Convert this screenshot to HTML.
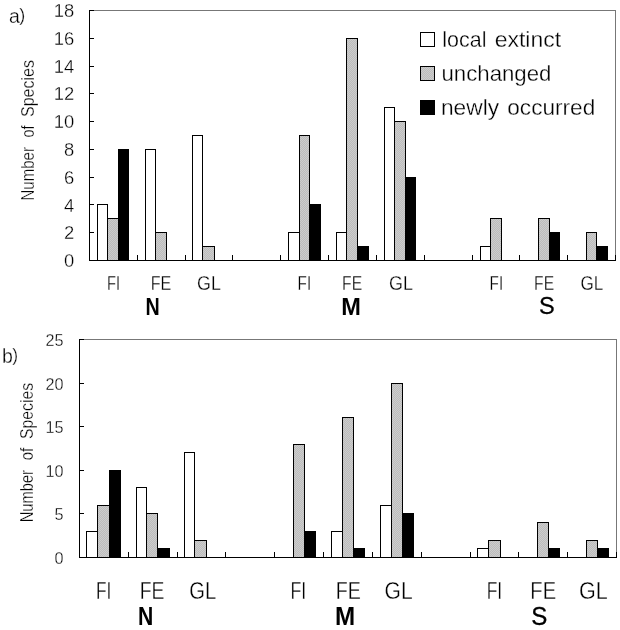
<!DOCTYPE html>
<html><head><meta charset="utf-8"><title>Number of Species</title>
<style>
html,body{margin:0;padding:0;background:#fff}
svg{display:block;will-change:transform;filter:grayscale(1)}
text{font-family:"Liberation Sans",Arial,sans-serif;fill:#000}
.t{stroke:#fff;stroke-width:0.3;paint-order:fill stroke}
.b{font-weight:bold}
.s{stroke:#000;stroke-width:.3}
</style></head><body>
<svg width="620" height="630" viewBox="0 0 620 630">
<defs><pattern id="g" width="2" height="2" patternUnits="userSpaceOnUse"><rect width="2" height="2" fill="#bcbcbc"/><rect width="1" height="1" fill="#cdcdcd"/><rect x="1" y="1" width="1" height="1" fill="#cdcdcd"/></pattern></defs>
<rect width="620" height="630" fill="#fff"/>
<g shape-rendering="crispEdges">
<rect x="97.5" y="204.94" width="10" height="55.56" fill="#fff" stroke="#000" stroke-width="1"/>
<rect x="107.5" y="218.83" width="10.5" height="41.67" fill="url(#g)" stroke="#000" stroke-width="1"/>
<rect x="118" y="149.39" width="10.9" height="111.11" fill="#000" stroke="#000" stroke-width="1"/>
<rect x="145.33" y="149.39" width="10.6" height="111.11" fill="#fff" stroke="#000" stroke-width="1"/>
<rect x="155.93" y="232.72" width="10.6" height="27.78" fill="url(#g)" stroke="#000" stroke-width="1"/>
<rect x="192.6" y="135.5" width="9.9" height="125" fill="#fff" stroke="#000" stroke-width="1"/>
<rect x="202.5" y="246.61" width="11.9" height="13.89" fill="url(#g)" stroke="#000" stroke-width="1"/>
<rect x="288.78" y="232.72" width="10.6" height="27.78" fill="#fff" stroke="#000" stroke-width="1"/>
<rect x="299.38" y="135.5" width="10.6" height="125" fill="url(#g)" stroke="#000" stroke-width="1"/>
<rect x="309.98" y="204.94" width="10.6" height="55.56" fill="#000" stroke="#000" stroke-width="1"/>
<rect x="336.4" y="232.72" width="10.2" height="27.78" fill="#fff" stroke="#000" stroke-width="1"/>
<rect x="346.6" y="38.28" width="11" height="222.22" fill="url(#g)" stroke="#000" stroke-width="1"/>
<rect x="357.6" y="246.61" width="10.6" height="13.89" fill="#000" stroke="#000" stroke-width="1"/>
<rect x="384.5" y="107.72" width="10.1" height="152.78" fill="#fff" stroke="#000" stroke-width="1"/>
<rect x="394.6" y="121.61" width="10.7" height="138.89" fill="url(#g)" stroke="#000" stroke-width="1"/>
<rect x="405.3" y="177.17" width="10.6" height="83.33" fill="#000" stroke="#000" stroke-width="1"/>
<rect x="480.05" y="246.61" width="10.6" height="13.89" fill="#fff" stroke="#000" stroke-width="1"/>
<rect x="490.65" y="218.83" width="10.6" height="41.67" fill="url(#g)" stroke="#000" stroke-width="1"/>
<rect x="538.47" y="218.83" width="10.6" height="41.67" fill="url(#g)" stroke="#000" stroke-width="1"/>
<rect x="549.07" y="232.72" width="10.6" height="27.78" fill="#000" stroke="#000" stroke-width="1"/>
<rect x="586.29" y="232.72" width="10.6" height="27.78" fill="url(#g)" stroke="#000" stroke-width="1"/>
<rect x="596.89" y="246.61" width="10.6" height="13.89" fill="#000" stroke="#000" stroke-width="1"/>
<path d="M89.5 10.5H615.5V260.5" fill="none" stroke="#777" stroke-width="1"/>
<path d="M89.5 10V260.5H616" fill="none" stroke="#000" stroke-width="1"/>
<path d="M89.5 260.5h4.5M89.5 232.72h4.5M89.5 204.94h4.5M89.5 177.17h4.5M89.5 149.39h4.5M89.5 121.61h4.5M89.5 93.83h4.5M89.5 66.06h4.5M89.5 38.28h4.5M89.5 10.5h4.5M137.32 260.5v-5.5M185.14 260.5v-5.5M232.95 260.5v-5.5M280.77 260.5v-5.5M328.59 260.5v-5.5M376.41 260.5v-5.5M424.23 260.5v-5.5M472.05 260.5v-5.5M519.86 260.5v-5.5M567.68 260.5v-5.5M615.5 260.5v-5.5" fill="none" stroke="#000" stroke-width="1"/>
<rect x="86.5" y="531.34" width="11" height="26.16" fill="#fff" stroke="#000" stroke-width="1"/>
<rect x="97.5" y="505.18" width="11.5" height="52.32" fill="url(#g)" stroke="#000" stroke-width="1"/>
<rect x="109" y="470.3" width="11.6" height="87.2" fill="#000" stroke="#000" stroke-width="1"/>
<rect x="136.3" y="487.74" width="10.5" height="69.76" fill="#fff" stroke="#000" stroke-width="1"/>
<rect x="146.8" y="513.9" width="10.8" height="43.6" fill="url(#g)" stroke="#000" stroke-width="1"/>
<rect x="157.6" y="548.78" width="11.4" height="8.72" fill="#000" stroke="#000" stroke-width="1"/>
<rect x="184.5" y="452.86" width="10" height="104.64" fill="#fff" stroke="#000" stroke-width="1"/>
<rect x="194.5" y="540.06" width="12" height="17.44" fill="url(#g)" stroke="#000" stroke-width="1"/>
<rect x="293.63" y="444.14" width="11.1" height="113.36" fill="url(#g)" stroke="#000" stroke-width="1"/>
<rect x="304.73" y="531.34" width="11.1" height="26.16" fill="#000" stroke="#000" stroke-width="1"/>
<rect x="331.35" y="531.34" width="11.1" height="26.16" fill="#fff" stroke="#000" stroke-width="1"/>
<rect x="342.45" y="417.98" width="11.1" height="139.52" fill="url(#g)" stroke="#000" stroke-width="1"/>
<rect x="353.55" y="548.78" width="11.1" height="8.72" fill="#000" stroke="#000" stroke-width="1"/>
<rect x="380.17" y="505.18" width="11.1" height="52.32" fill="#fff" stroke="#000" stroke-width="1"/>
<rect x="391.27" y="383.1" width="11.1" height="174.4" fill="url(#g)" stroke="#000" stroke-width="1"/>
<rect x="402.37" y="513.9" width="11.1" height="43.6" fill="#000" stroke="#000" stroke-width="1"/>
<rect x="477.8" y="548.78" width="11.1" height="8.72" fill="#fff" stroke="#000" stroke-width="1"/>
<rect x="488.9" y="540.06" width="11.1" height="17.44" fill="url(#g)" stroke="#000" stroke-width="1"/>
<rect x="537.72" y="522.62" width="11.1" height="34.88" fill="url(#g)" stroke="#000" stroke-width="1"/>
<rect x="548.82" y="548.78" width="11.1" height="8.72" fill="#000" stroke="#000" stroke-width="1"/>
<rect x="586.54" y="540.06" width="11.1" height="17.44" fill="url(#g)" stroke="#000" stroke-width="1"/>
<rect x="597.64" y="548.78" width="11.1" height="8.72" fill="#000" stroke="#000" stroke-width="1"/>
<path d="M79.5 339.5H616.5V557.5" fill="none" stroke="#777" stroke-width="1"/>
<path d="M79.5 339V557.5H617" fill="none" stroke="#000" stroke-width="1"/>
<path d="M79.5 557.5h4.5M79.5 513.9h4.5M79.5 470.3h4.5M79.5 426.7h4.5M79.5 383.1h4.5M79.5 339.5h4.5M128.32 557.5v-5.5M177.14 557.5v-5.5M225.95 557.5v-5.5M274.77 557.5v-5.5M323.59 557.5v-5.5M372.41 557.5v-5.5M421.23 557.5v-5.5M470.05 557.5v-5.5M518.86 557.5v-5.5M567.68 557.5v-5.5M616.5 557.5v-5.5" fill="none" stroke="#000" stroke-width="1"/>
<rect x="420.5" y="32.5" width="14" height="14" fill="#fff" stroke="#000"/>
<rect x="420.5" y="66.5" width="14" height="14" fill="url(#g)" stroke="#000"/>
<rect x="420.5" y="100.5" width="14" height="14" fill="#000" stroke="#000"/>
</g>
<g>
<text class="t" x="74.3" y="267.1" font-size="18.4" text-anchor="end">0</text>
<text class="t" x="74.3" y="239.32" font-size="18.4" text-anchor="end">2</text>
<text class="t" x="74.3" y="211.54" font-size="18.4" text-anchor="end">4</text>
<text class="t" x="74.3" y="183.77" font-size="18.4" text-anchor="end">6</text>
<text class="t" x="74.3" y="155.99" font-size="18.4" text-anchor="end">8</text>
<text class="t" x="74.3" y="128.21" font-size="18.4" text-anchor="end">10</text>
<text class="t" x="74.3" y="100.43" font-size="18.4" text-anchor="end">12</text>
<text class="t" x="74.3" y="72.66" font-size="18.4" text-anchor="end">14</text>
<text class="t" x="74.3" y="44.88" font-size="18.4" text-anchor="end">16</text>
<text class="t" x="74.3" y="17.1" font-size="18.4" text-anchor="end">18</text>
<text class="t" x="63.6" y="563.9" font-size="16.2" text-anchor="end">0</text>
<text class="t" x="63.6" y="520.3" font-size="16.2" text-anchor="end">5</text>
<text class="t" x="63.6" y="476.7" font-size="16.2" text-anchor="end">10</text>
<text class="t" x="63.6" y="433.1" font-size="16.2" text-anchor="end">15</text>
<text class="t" x="63.6" y="389.5" font-size="16.2" text-anchor="end">20</text>
<text class="t" x="63.6" y="345.9" font-size="16.2" text-anchor="end">25</text>
<text class="t" x="442.30" y="46.50" font-size="21.3" textLength="44.16" lengthAdjust="spacingAndGlyphs">local</text>
<text class="t" x="494.70" y="46.50" font-size="21.3" textLength="66.47" lengthAdjust="spacingAndGlyphs">extinct</text>
<text class="t" x="441.50" y="80.60" font-size="21.3" textLength="109.89" lengthAdjust="spacingAndGlyphs">unchanged</text>
<text class="t" x="440.95" y="114.50" font-size="21.3" textLength="58.11" lengthAdjust="spacingAndGlyphs">newly</text>
<text class="t" x="507.25" y="114.50" font-size="21.3" textLength="88.00" lengthAdjust="spacingAndGlyphs">occurred</text>
<text class="t" transform="translate(33.90 200.50) rotate(-90)" font-size="17.8" textLength="53.38" lengthAdjust="spacingAndGlyphs">Number</text>
<text class="t" transform="translate(33.90 137.60) rotate(-90)" font-size="17.8" textLength="12.02" lengthAdjust="spacingAndGlyphs">of</text>
<text class="t" transform="translate(33.90 116.95) rotate(-90)" font-size="17.8" textLength="56.86" lengthAdjust="spacingAndGlyphs">Species</text>
<text class="t" transform="translate(33.00 522.30) rotate(-90)" font-size="17.8" textLength="52.29" lengthAdjust="spacingAndGlyphs">Number</text>
<text class="t" transform="translate(33.00 460.35) rotate(-90)" font-size="17.8" textLength="12.59" lengthAdjust="spacingAndGlyphs">of</text>
<text class="t" transform="translate(33.00 438.95) rotate(-90)" font-size="17.8" textLength="56.01" lengthAdjust="spacingAndGlyphs">Species</text>
<text class="t" x="107.10" y="290.00" font-size="20.3" textLength="13.03" lengthAdjust="spacingAndGlyphs">FI</text>
<text class="t" x="150.63" y="290.00" font-size="20.3" textLength="20.58" lengthAdjust="spacingAndGlyphs">FE</text>
<text class="t" x="197.10" y="290.00" font-size="20.3" textLength="23.80" lengthAdjust="spacingAndGlyphs">GL</text>
<text class="t" x="297.62" y="290.00" font-size="20.3" textLength="13.59" lengthAdjust="spacingAndGlyphs">FI</text>
<text class="t" x="342.05" y="290.00" font-size="20.3" textLength="20.09" lengthAdjust="spacingAndGlyphs">FE</text>
<text class="t" x="389.05" y="290.00" font-size="20.3" textLength="23.90" lengthAdjust="spacingAndGlyphs">GL</text>
<text class="t" x="489.62" y="290.00" font-size="20.3" textLength="13.59" lengthAdjust="spacingAndGlyphs">FI</text>
<text class="t" x="534.10" y="290.00" font-size="20.3" textLength="20.01" lengthAdjust="spacingAndGlyphs">FE</text>
<text class="t" x="580.58" y="290.00" font-size="20.3" textLength="22.77" lengthAdjust="spacingAndGlyphs">GL</text>
<text class="t" x="95.90" y="598.80" font-size="23" textLength="15.40" lengthAdjust="spacingAndGlyphs">FI</text>
<text class="t" x="139.70" y="598.80" font-size="23" textLength="24.66" lengthAdjust="spacingAndGlyphs">FE</text>
<text class="t" x="189.25" y="598.80" font-size="23" textLength="26.90" lengthAdjust="spacingAndGlyphs">GL</text>
<text class="t" x="290.50" y="598.80" font-size="23" textLength="15.73" lengthAdjust="spacingAndGlyphs">FI</text>
<text class="t" x="335.75" y="598.80" font-size="23" textLength="25.12" lengthAdjust="spacingAndGlyphs">FE</text>
<text class="t" x="384.50" y="598.80" font-size="23" textLength="28.11" lengthAdjust="spacingAndGlyphs">GL</text>
<text class="t" x="486.70" y="598.80" font-size="23" textLength="15.48" lengthAdjust="spacingAndGlyphs">FI</text>
<text class="t" x="530.35" y="598.80" font-size="23" textLength="25.73" lengthAdjust="spacingAndGlyphs">FE</text>
<text class="t" x="579.10" y="598.80" font-size="23" textLength="28.75" lengthAdjust="spacingAndGlyphs">GL</text>
<text class="b" x="145.57" y="314.70" font-size="24.6" textLength="14.21" lengthAdjust="spacingAndGlyphs">N</text>
<text class="b" x="341.28" y="314.70" font-size="24.6" textLength="19.66" lengthAdjust="spacingAndGlyphs">M</text>
<text class="s" x="539.10" y="314.40" font-size="24.6" textLength="15.69" lengthAdjust="spacingAndGlyphs">S</text>
<text class="b" x="137.90" y="624.80" font-size="25" textLength="15.27" lengthAdjust="spacingAndGlyphs">N</text>
<text class="b" x="334.90" y="624.80" font-size="25" textLength="20.16" lengthAdjust="spacingAndGlyphs">M</text>
<text class="s" x="531.25" y="624.50" font-size="25.6" textLength="16.09" lengthAdjust="spacingAndGlyphs">S</text>
<text class="t" x="9" y="22.9" font-size="19.5">a<tspan font-size="18" dy="-1.6" dx="-0.6">)</tspan></text>
<text class="t" x="2" y="362.8" font-size="19.5">b<tspan font-size="17.5" dy="-1.6" dx="-0.6">)</tspan></text>
</g>
</svg>
</body></html>
